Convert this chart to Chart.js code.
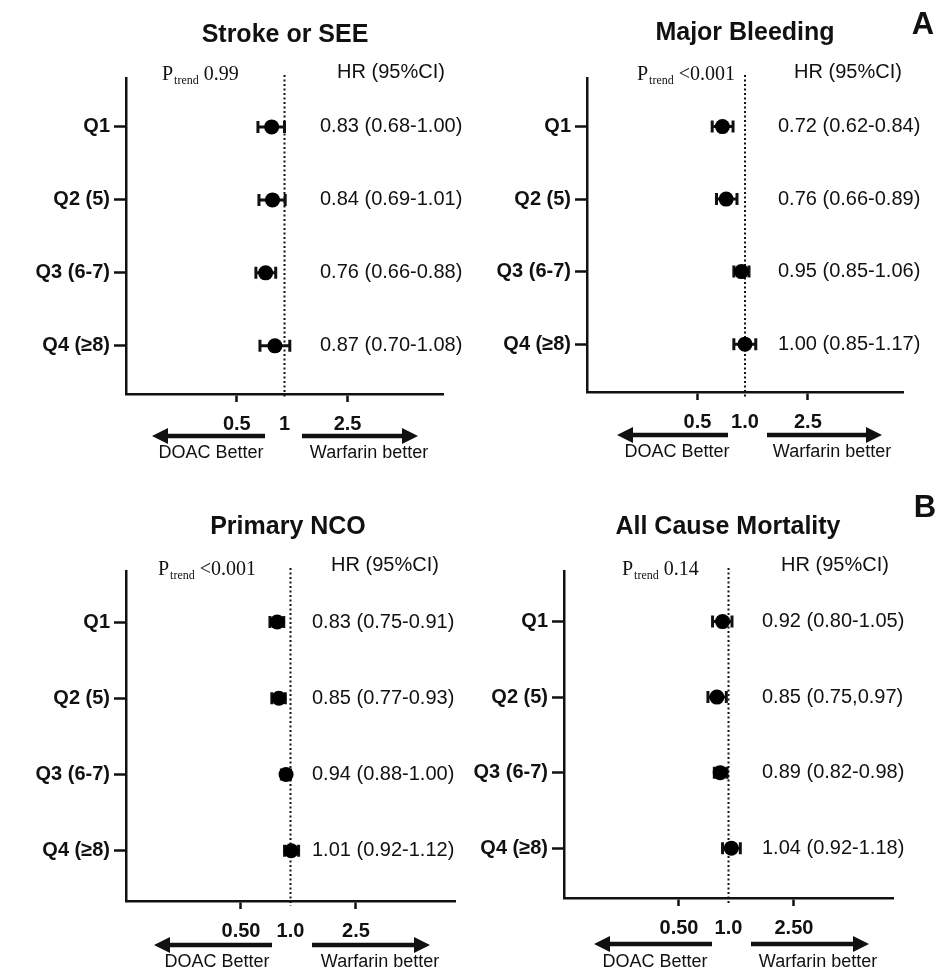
<!DOCTYPE html>
<html>
<head>
<meta charset="utf-8">
<script src="https://cdn.jsdelivr.net/npm/chart.js@4.4.1/dist/chart.umd.min.js"></script>
<style>
  body { margin: 0; background: #fff; }
  #wrap { position: relative; width: 937px; height: 973px; overflow: hidden; }
  canvas { position: absolute; }
</style>
</head>
<body>
<div id="wrap">
  <canvas id="c1" width="468" height="480" style="left:0;top:0"></canvas>
  <canvas id="c2" width="469" height="480" style="left:468px;top:0"></canvas>
  <canvas id="c3" width="468" height="493" style="left:0;top:480px"></canvas>
  <canvas id="c4" width="469" height="493" style="left:468px;top:480px"></canvas>
</div>
<script>
var quartiles = ["Q1", "Q2 (5)", "Q3 (6-7)", "Q4 (≥8)"];

var strokeHR = [0.83, 0.84, 0.76, 0.87];
var strokeLo = [0.68, 0.69, 0.66, 0.70];
var strokeHi = [1.00, 1.01, 0.88, 1.08];
var strokeText = ["0.83 (0.68-1.00)", "0.84 (0.69-1.01)", "0.76 (0.66-0.88)", "0.87 (0.70-1.08)"];

var bleedHR = [0.72, 0.76, 0.95, 1.00];
var bleedLo = [0.62, 0.66, 0.85, 0.85];
var bleedHi = [0.84, 0.89, 1.06, 1.17];
var bleedText = ["0.72 (0.62-0.84)", "0.76 (0.66-0.89)", "0.95 (0.85-1.06)", "1.00 (0.85-1.17)"];

var ncoHR = [0.83, 0.85, 0.94, 1.01];
var ncoLo = [0.75, 0.77, 0.88, 0.92];
var ncoHi = [0.91, 0.93, 1.00, 1.12];
var ncoText = ["0.83 (0.75-0.91)", "0.85 (0.77-0.93)", "0.94 (0.88-1.00)", "1.01 (0.92-1.12)"];

var mortHR = [0.92, 0.85, 0.89, 1.04];
var mortLo = [0.80, 0.75, 0.82, 0.92];
var mortHi = [1.05, 0.97, 0.98, 1.18];
var mortText = ["0.92 (0.80-1.05)", "0.85 (0.75,0.97)", "0.89 (0.82-0.98)", "1.04 (0.92-1.18)"];

var xTickValues = [0.5, 1, 2.5];

var SANS = "'Liberation Sans', Arial, sans-serif";
var SERIF = "'Liberation Serif', 'Times New Roman', serif";
var INK = "#111";

var panels = [
  { id: "c1", w: 468, h: 480, area: { l: 126, r: 443, t: 78, b: 394 },
    title: "Stroke or SEE", titleX: 285, titleY: 35, p: "0.99", pX: 162, pY: 80,
    hrX: 391, hrY: 72, valX: 320, arrowY: 436, lArrow: [152, 265], rArrow: [302, 418],
    textY: 453, doacX: 211, warfX: 369, ticks: ["0.5", "1", "2.5"],
    hr: strokeHR, lo: strokeLo, hi: strokeHi, text: strokeText },
  { id: "c2", w: 469, h: 480, area: { l: 119, r: 435, t: 78, b: 392 },
    title: "Major Bleeding", titleX: 277, titleY: 33, p: "<0.001", pX: 169, pY: 80,
    hrX: 380, hrY: 72, valX: 310, arrowY: 435, lArrow: [149, 260], rArrow: [299, 414],
    textY: 452, doacX: 209, warfX: 364, ticks: ["0.5", "1.0", "2.5"],
    hr: bleedHR, lo: bleedLo, hi: bleedHi, text: bleedText, corner: "A", cornerX: 455, cornerY: 25 },
  { id: "c3", w: 468, h: 493, area: { l: 126, r: 455, t: 91, b: 421 },
    title: "Primary NCO", titleX: 288, titleY: 47, p: "<0.001", pX: 158, pY: 95,
    hrX: 385, hrY: 85, valX: 312, arrowY: 465, lArrow: [154, 272], rArrow: [312, 430],
    textY: 482, doacX: 217, warfX: 380, ticks: ["0.50", "1.0", "2.5"],
    hr: ncoHR, lo: ncoLo, hi: ncoHi, text: ncoText },
  { id: "c4", w: 469, h: 493, area: { l: 96, r: 425, t: 91, b: 418 },
    title: "All Cause Mortality", titleX: 260, titleY: 47, p: "0.14", pX: 154, pY: 95,
    hrX: 367, hrY: 85, valX: 294, arrowY: 464, lArrow: [126, 244], rArrow: [283, 401],
    textY: 482, doacX: 187, warfX: 350, ticks: ["0.50", "1.0", "2.50"],
    hr: mortHR, lo: mortLo, hi: mortHi, text: mortText, corner: "B", cornerX: 457, cornerY: 28 }
];

function arrow(ctx, x0, x1, y) {
  var dir = x1 > x0 ? 1 : -1;
  var head = 16;
  ctx.beginPath();
  ctx.moveTo(x0, y);
  ctx.lineTo(x1 - dir * head, y);
  ctx.stroke();
  ctx.beginPath();
  ctx.moveTo(x1, y);
  ctx.lineTo(x1 - dir * head, y - 8);
  ctx.lineTo(x1 - dir * head, y + 8);
  ctx.closePath();
  ctx.fill();
}

function forest(p) {
  return {
    id: "forest" + p.id,
    beforeDatasetsDraw: function (chart) {
      var ctx = chart.ctx, a = chart.chartArea, x = chart.scales.x, y = chart.scales.y;
      ctx.save();
      ctx.strokeStyle = INK;
      // reference line at HR = 1
      var x1 = x.getPixelForValue(1);
      ctx.lineWidth = 2;
      ctx.setLineDash([2, 2.5]);
      ctx.beginPath();
      ctx.moveTo(x1, a.top - 3);
      ctx.lineTo(x1, a.bottom + 5);
      ctx.stroke();
      ctx.setLineDash([]);
      // confidence intervals
      ctx.lineWidth = 3;
      p.lo.forEach(function (lo, i) {
        var yy = y.getPixelForValue(i + 1);
        var xl = x.getPixelForValue(lo), xh = x.getPixelForValue(p.hi[i]);
        ctx.beginPath();
        ctx.moveTo(xl, yy); ctx.lineTo(xh, yy);
        ctx.moveTo(xl, yy - 6); ctx.lineTo(xl, yy + 6);
        ctx.moveTo(xh, yy - 6); ctx.lineTo(xh, yy + 6);
        ctx.stroke();
      });
      ctx.restore();
    },
    afterDraw: function (chart) {
      var ctx = chart.ctx, y = chart.scales.y;
      ctx.save();
      ctx.fillStyle = INK;
      ctx.strokeStyle = INK;

      ctx.textAlign = "center";
      ctx.textBaseline = "middle";
      ctx.font = "bold 25px " + SANS;
      ctx.fillText(p.title, p.titleX, p.titleY);

      if (p.corner) {
        ctx.font = "bold 31px " + SANS;
        ctx.fillText(p.corner, p.cornerX, p.cornerY);
      }

      ctx.font = "20px " + SANS;
      ctx.fillText("HR (95%CI)", p.hrX, p.hrY);

      // P trend
      ctx.textAlign = "left";
      ctx.textBaseline = "alphabetic";
      var px = p.pX;
      ctx.font = "20px " + SERIF;
      ctx.fillText("P", px, p.pY);
      px += ctx.measureText("P").width + 1;
      ctx.font = "12px " + SERIF;
      ctx.fillText("trend", px, p.pY + 4);
      px += ctx.measureText("trend").width + 5;
      ctx.font = "20px " + SERIF;
      ctx.fillText(p.p, px, p.pY);

      // HR values
      ctx.textBaseline = "middle";
      ctx.font = "20px " + SANS;
      p.text.forEach(function (t, i) {
        ctx.fillText(t, p.valX, y.getPixelForValue(i + 1));
      });

      // direction arrows
      ctx.lineWidth = 4.5;
      arrow(ctx, p.lArrow[1], p.lArrow[0], p.arrowY);
      arrow(ctx, p.rArrow[0], p.rArrow[1], p.arrowY);

      ctx.textAlign = "center";
      ctx.font = "18px " + SANS;
      ctx.fillText("DOAC Better", p.doacX, p.textY);
      ctx.fillText("Warfarin better", p.warfX, p.textY);
      ctx.restore();
    }
  };
}

panels.forEach(function (p) {
  var el = document.getElementById(p.id).getContext("2d");
  new Chart(el, {
    type: "scatter",
    data: {
      datasets: [{
        data: p.hr.map(function (v, i) { return { x: v, y: i + 1 }; }),
        backgroundColor: "#000",
        borderWidth: 0,
        pointRadius: 7.5
      }]
    },
    options: {
      responsive: false,
      animation: false,
      events: [],
      layout: { padding: { top: p.area.t, right: p.w - p.area.r, left: 0, bottom: 0 } },
      plugins: { legend: { display: false }, tooltip: { enabled: false }, title: { display: false } },
      scales: {
        x: {
          type: "logarithmic",
          min: 0.1,
          max: 10,
          afterBuildTicks: function (s) { s.ticks = xTickValues.map(function (v) { return { value: v }; }); },
          afterFit: function (s) { s.height = p.h - p.area.b; },
          border: { color: INK, width: 2.5 },
          grid: {
            drawOnChartArea: false,
            tickLength: 8,
            tickWidth: 2.5,
            tickColor: function (c) { return c.tick && c.tick.value === 1 ? "rgba(0,0,0,0)" : INK; }
          },
          ticks: {
            autoSkip: false,
            maxRotation: 0,
            padding: 10,
            color: INK,
            font: { family: SANS, size: 20, weight: "bold" },
            callback: function (v, i) { return p.ticks[i]; }
          }
        },
        y: {
          type: "linear",
          reverse: true,
          min: 0.33,
          max: 4.66,
          afterBuildTicks: function (s) { s.ticks = quartiles.map(function (q, i) { return { value: i + 1 }; }); },
          afterFit: function (s) { s.width = p.area.l; },
          border: { color: INK, width: 2.5 },
          grid: { drawOnChartArea: false, tickLength: 12, tickWidth: 2.5, tickColor: INK },
          ticks: {
            padding: 4,
            color: INK,
            font: { family: SANS, size: 20, weight: "bold" },
            callback: function (v) { return quartiles[v - 1]; }
          }
        }
      }
    },
    plugins: [forest(p)]
  });
});
</script>
</body>
</html>
